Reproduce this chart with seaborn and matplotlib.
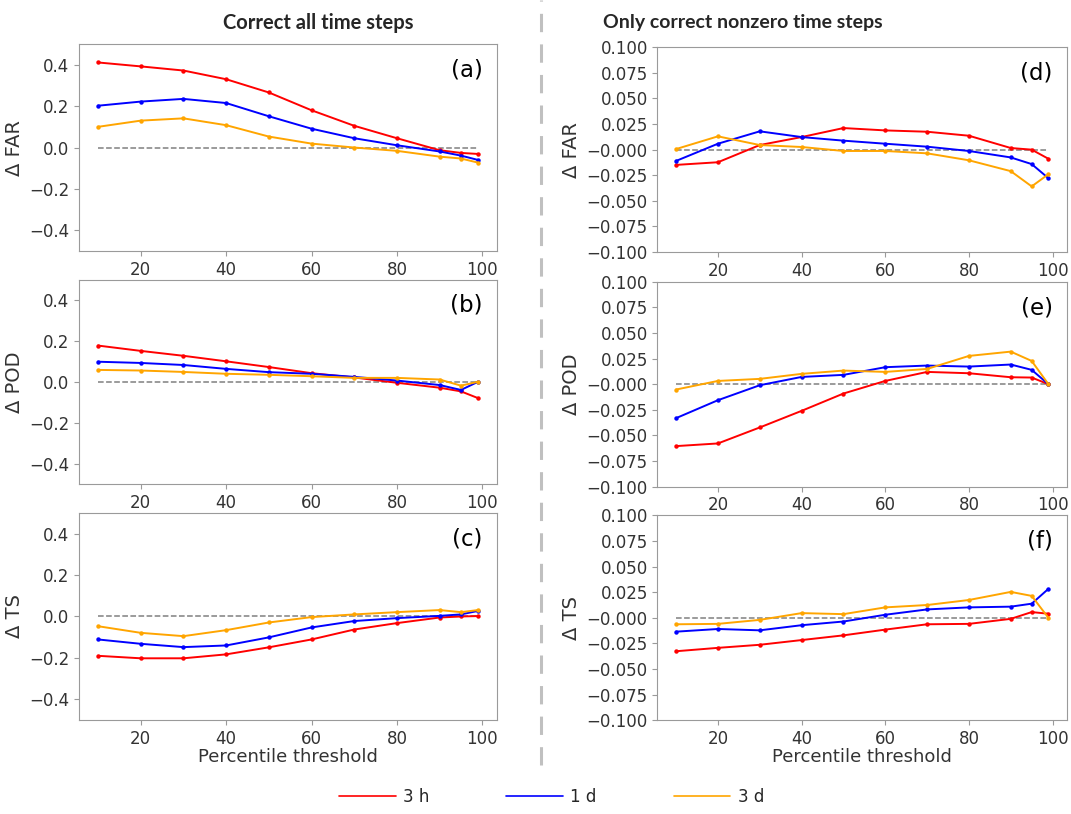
import numpy as np
import pandas as pd
import seaborn as sns
import matplotlib.pyplot as plt
from matplotlib.lines import Line2D

# percentile thresholds
thresholds = [10, 20, 30, 40, 50, 60, 70, 80, 90, 95, 99]
leads = ['3 h', '1 d', '3 d']
colors = {'3 h': 'red', '1 d': 'blue', '3 d': 'orange'}

# (a)-(c): correct all time steps
far_all_3h = [0.411, 0.392, 0.372, 0.330, 0.266, 0.180, 0.105, 0.045, -0.013, -0.026, -0.031]
far_all_1d = [0.202, 0.222, 0.235, 0.215, 0.151, 0.091, 0.045, 0.011, -0.019, -0.039, -0.060]
far_all_3d = [0.100, 0.130, 0.141, 0.108, 0.053, 0.019, 0.000, -0.016, -0.044, -0.053, -0.073]

pod_all_3h = [0.177, 0.151, 0.127, 0.100, 0.072, 0.042, 0.021, -0.005, -0.029, -0.047, -0.080]
pod_all_1d = [0.098, 0.092, 0.082, 0.063, 0.047, 0.039, 0.024, 0.006, -0.016, -0.040, 0.000]
pod_all_3d = [0.058, 0.055, 0.048, 0.039, 0.034, 0.027, 0.019, 0.019, 0.011, -0.019, 0.000]

ts_all_3h = [-0.190, -0.202, -0.202, -0.183, -0.149, -0.111, -0.063, -0.032, -0.005, 0.000, 0.002]
ts_all_1d = [-0.111, -0.132, -0.148, -0.140, -0.101, -0.053, -0.022, -0.008, 0.003, 0.010, 0.027]
ts_all_3d = [-0.047, -0.079, -0.095, -0.066, -0.029, -0.003, 0.010, 0.021, 0.031, 0.021, 0.031]

# (d)-(f): only correct nonzero time steps
far_nz_3h = [-0.0149, -0.0123, 0.0045, 0.0123, 0.0211, 0.0188, 0.0175, 0.0136, 0.0016, 0.0000, -0.0089]
far_nz_1d = [-0.0110, 0.0058, 0.0179, 0.0123, 0.0088, 0.0058, 0.0029, -0.0013, -0.0076, -0.0141, -0.0279]
far_nz_3d = [0.0006, 0.0130, 0.0045, 0.0026, -0.0013, -0.0013, -0.0036, -0.0104, -0.0210, -0.0359, -0.0240]

pod_nz_3h = [-0.0604, -0.0578, -0.0422, -0.0260, -0.0091, 0.0032, 0.0120, 0.0107, 0.0068, 0.0065, 0.0000]
pod_nz_1d = [-0.0331, -0.0156, -0.0010, 0.0071, 0.0091, 0.0166, 0.0182, 0.0172, 0.0192, 0.0140, 0.0000]
pod_nz_3d = [-0.0052, 0.0032, 0.0052, 0.0101, 0.0133, 0.0120, 0.0149, 0.0276, 0.0318, 0.0227, 0.0000]

ts_nz_3h = [-0.0326, -0.0293, -0.0263, -0.0217, -0.0171, -0.0115, -0.0063, -0.0059, -0.0010, 0.0056, 0.0040]
ts_nz_1d = [-0.0135, -0.0109, -0.0122, -0.0072, -0.0036, 0.0030, 0.0082, 0.0102, 0.0109, 0.0138, 0.0283]
ts_nz_3d = [-0.0063, -0.0059, -0.0020, 0.0046, 0.0036, 0.0102, 0.0125, 0.0174, 0.0253, 0.0214, 0.0000]

panels = [
    ('(a)', 'Δ FAR', [far_all_3h, far_all_1d, far_all_3d]),
    ('(b)', 'Δ POD', [pod_all_3h, pod_all_1d, pod_all_3d]),
    ('(c)', 'Δ TS', [ts_all_3h, ts_all_1d, ts_all_3d]),
    ('(d)', 'Δ FAR', [far_nz_3h, far_nz_1d, far_nz_3d]),
    ('(e)', 'Δ POD', [pod_nz_3h, pod_nz_1d, pod_nz_3d]),
    ('(f)', 'Δ TS', [ts_nz_3h, ts_nz_1d, ts_nz_3d]),
]

sns.set_style('ticks', {'axes.edgecolor': '#9a9a9a', 'xtick.color': '#9a9a9a',
                        'ytick.color': '#9a9a9a'})
plt.rcParams['font.family'] = ['DejaVu Sans']
plt.rcParams['xtick.labelcolor'] = '#333333'
plt.rcParams['ytick.labelcolor'] = '#333333'

fig = plt.figure(figsize=(10.71, 8.14), dpi=100)

left_x, left_w = 0.0738, 0.3903
right_x, right_w = 0.6139, 0.3824
rows_left = [(0.6916, 0.2543), (0.4054, 0.2512), (0.1155, 0.2543)]
rows_right = [(0.6904, 0.2515), (0.4021, 0.2518), (0.1151, 0.2518)]

boxes = [(left_x, b, left_w, h) for b, h in rows_left] + \
        [(right_x, b, right_w, h) for b, h in rows_right]

for i, ((tag, ylab, series), box) in enumerate(zip(panels, boxes)):
    ax = fig.add_axes(box)
    df = pd.DataFrame({
        'threshold': thresholds * 3,
        'value': np.concatenate(series),
        'lead': np.repeat(leads, len(thresholds)),
    })
    ax.plot(thresholds, [0] * len(thresholds), ls='--', color='gray', lw=1.1, zorder=1)
    sns.lineplot(data=df, x='threshold', y='value', hue='lead', palette=colors,
                 marker='o', markersize=3.2, markeredgewidth=0, lw=1.4,
                 legend=False, ax=ax)
    ax.set_xticks([20, 40, 60, 80, 100])
    if i < 3:
        ax.set_ylim(-0.5, 0.5)
        ax.set_yticks([-0.4, -0.2, 0.0, 0.2, 0.4])
    else:
        ax.set_ylim(-0.1, 0.1)
        ax.set_yticks(np.arange(-0.1, 0.1001, 0.025))
        ax.set_yticklabels([f'{t:.3f}'.replace('-', '\u2212') for t in np.arange(-0.1, 0.1001, 0.025)])
    ax.tick_params(labelsize=12, length=3.5)
    ax.set_ylabel(ylab, fontsize=14)
    if i in (2, 5):
        ax.set_xlabel('Percentile threshold', fontsize=13, color='#333333', labelpad=0)
    else:
        ax.set_xlabel('')
    ax.text(0.965, 0.93, tag, transform=ax.transAxes, ha='right', va='top',
            fontsize=16.5, color='black')
    ax.yaxis.label.set_color('#333333')

fig.text(0.297, 0.972, 'Correct all time steps', ha='center', va='center',
         fontsize=14.5, fontweight='bold', family=['Lato', 'DejaVu Sans'])
fig.text(0.694, 0.972, 'Only correct nonzero time steps', ha='center', va='center',
         fontsize=14, fontweight='bold', family=['Lato', 'DejaVu Sans'])

fig.add_artist(Line2D([0.505, 0.505], [0.06, 1.0], transform=fig.transFigure,
                      color='#c0c0c0', lw=2.2, ls=(0, (6, 4))))

handles = [Line2D([], [], color=colors[k], lw=1.2) for k in leads]
fig.legend(handles, leads, loc='center', bbox_to_anchor=(0.515, 0.021), ncol=3,
           frameon=False, handlelength=3.4, handletextpad=0.45,
           columnspacing=4.6, fontsize=12)

fig.savefig('out.png', dpi=100)
